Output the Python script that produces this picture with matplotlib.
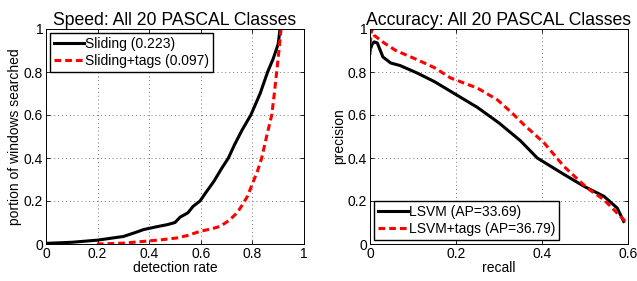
import numpy as np
import matplotlib.pyplot as plt

plt.rcParams['font.family'] = ['Liberation Sans', 'DejaVu Sans']

# speed curves: detection rate vs portion of windows searched
slide_x = [0, 0.1, 0.2, 0.3, 0.35, 0.378, 0.42, 0.47, 0.5, 0.52, 0.55, 0.57, 0.597,
           0.62, 0.65, 0.68, 0.707, 0.73, 0.76, 0.794, 0.83, 0.859, 0.88, 0.9, 0.907]
slide_y = [0.003, 0.008, 0.018, 0.035, 0.055, 0.067, 0.078, 0.09, 0.1, 0.125, 0.145,
           0.175, 0.2, 0.24, 0.29, 0.35, 0.4, 0.46, 0.53, 0.6, 0.7, 0.8, 0.86, 0.93, 1.0]
tags_x = [0.197, 0.3, 0.378, 0.45, 0.507, 0.55, 0.597, 0.64, 0.675, 0.71, 0.74, 0.76,
          0.78, 0.80, 0.82, 0.836, 0.855, 0.875, 0.885, 0.894, 0.903, 0.911]
tags_y = [0.0, 0.004, 0.012, 0.02, 0.028, 0.04, 0.059, 0.07, 0.082, 0.11, 0.144, 0.18,
          0.22, 0.28, 0.34, 0.4, 0.5, 0.6, 0.7, 0.8, 0.9, 1.0]

# precision / recall
lsvm_r = [0, 0.005, 0.01, 0.017, 0.03, 0.048, 0.07, 0.11, 0.15, 0.1876, 0.25, 0.3,
          0.35, 0.389, 0.45, 0.498, 0.544, 0.575, 0.59]
lsvm_p = [0.9, 0.93, 0.94, 0.935, 0.87, 0.842, 0.83, 0.795, 0.755, 0.71, 0.635, 0.563,
          0.48, 0.4, 0.325, 0.268, 0.222, 0.167, 0.105]
tags_r = [0, 0.002, 0.004, 0.01, 0.033, 0.06, 0.11, 0.15, 0.1876, 0.25, 0.296, 0.33,
          0.358, 0.405, 0.451, 0.505, 0.544, 0.594]
tags_p = [0.88, 0.97, 1.0, 0.97, 0.935, 0.9, 0.857, 0.82, 0.772, 0.725, 0.671, 0.61,
          0.555, 0.47, 0.361, 0.26, 0.206, 0.105]

ticks01 = [0, 0.2, 0.4, 0.6, 0.8, 1]
ticklbl = ['0', '0.2', '0.4', '0.6', '0.8', '1']
dash = (0, (2.2, 1.3))

fig = plt.figure(figsize=(6.37, 2.81), dpi=100)
ax1 = fig.add_axes([46 / 637, 37 / 281, 258 / 637, 215 / 281])
ax2 = fig.add_axes([370 / 637, 37 / 281, 258 / 637, 215 / 281])

ax1.plot(slide_x, slide_y, color='black', lw=2.2, label='Sliding (0.223)')
ax1.plot(tags_x, tags_y, color='red', lw=2.2, ls=dash, label='Sliding+tags (0.097)')
ax1.set_xlim(0, 1)
ax1.set_ylim(0, 1)
ax1.set_xticks(ticks01)
ax1.set_xticklabels(ticklbl)
ax1.set_yticks(ticks01)
ax1.set_yticklabels(ticklbl)
ax1.set_xlabel('detection rate', fontsize=10, labelpad=0)
ax1.set_ylabel('portion of windows searched', fontsize=10, labelpad=1)
ax1.set_title('Speed: All 20 PASCAL Classes', fontsize=12.7, pad=3)

ax2.plot(lsvm_r, lsvm_p, color='black', lw=2.2, label='LSVM (AP=33.69)')
ax2.plot(tags_r, tags_p, color='red', lw=2.2, ls=dash, label='LSVM+tags (AP=36.79)')
ax2.set_xlim(0, 0.6)
ax2.set_ylim(0, 1)
ax2.set_xticks([0, 0.2, 0.4, 0.6])
ax2.set_xticklabels(['0', '0.2', '0.4', '0.6'])
ax2.set_yticks(ticks01)
ax2.set_yticklabels(ticklbl)
ax2.set_xlabel('recall', fontsize=10, labelpad=0)
ax2.set_ylabel('precision', fontsize=10, labelpad=1)
ax2.set_title('Accuracy: All 20 PASCAL Classes', fontsize=12.7, pad=3)

for ax in (ax1, ax2):
    ax.grid(True, color='#777777', ls=(0, (1, 3)), lw=0.7)
    ax.tick_params(direction='in', top=True, right=True, labelsize=10, length=3,
                   width=0.6, pad=2)
    for s in ax.spines.values():
        s.set_linewidth(0.7)

leg_kw = dict(fontsize=10, fancybox=False, framealpha=1, edgecolor='black',
              handlelength=2.1, borderpad=0.3, labelspacing=0.2,
              handletextpad=0.1, borderaxespad=0.3)
leg1 = ax1.legend(loc='upper left', **leg_kw)
leg2 = ax2.legend(loc='lower left', **leg_kw)
for leg in (leg1, leg2):
    leg.get_frame().set_linewidth(1.0)

fig.savefig('out.png', dpi=100)
